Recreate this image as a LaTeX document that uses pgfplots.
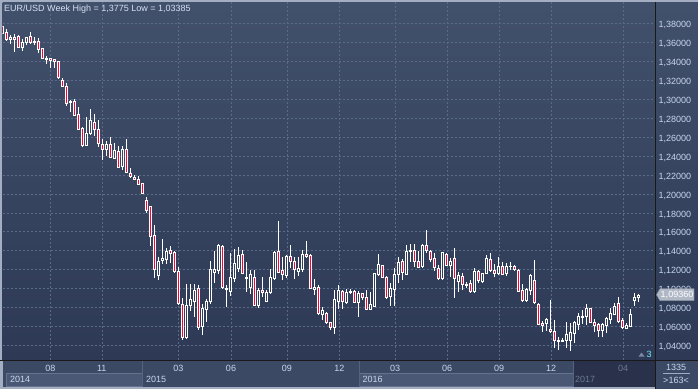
\documentclass[border=0pt]{standalone}
\usepackage{pgfplots}
\pgfplotsset{compat=1.18}
\usepackage{pgfplotstable}
\usepackage{fontspec}
\setmainfont{Liberation Sans}
\definecolor{framecol}{HTML}{A3AEC2}
\definecolor{bgtop}{HTML}{41506B}
\definecolor{bgbot}{HTML}{2D3955}
\definecolor{gridcol}{HTML}{5A6A8A}
\definecolor{bearred}{HTML}{EE0A38}
\definecolor{txt}{HTML}{D5E0F2}
\definecolor{ticktxt}{HTML}{C8D6EE}
\definecolor{monthrow}{HTML}{3C4965}
\definecolor{yearlight}{HTML}{4B5875}
\definecolor{yearborder}{HTML}{65728E}
\definecolor{darkseg}{HTML}{29324A}
\definecolor{greytxt}{HTML}{6B7893}
\definecolor{tagfill}{HTML}{B0B8C6}
\definecolor{sepcol}{HTML}{56637F}
\pgfplotstableread{
k o h l c
1 1.3764 1.3775 1.3690 1.3694
2 1.3705 1.3740 1.3617 1.3631
3 1.3631 1.3677 1.3582 1.3652
4 1.3649 1.3688 1.3502 1.3631
5 1.3667 1.3677 1.3537 1.3547
6 1.3547 1.3635 1.3512 1.3603
7 1.3603 1.3660 1.3575 1.3652
8 1.3660 1.3705 1.3582 1.3596
9 1.3596 1.3652 1.3572 1.3614
10 1.3614 1.3642 1.3484 1.3526
11 1.3537 1.3544 1.3421 1.3431
12 1.3421 1.3456 1.3368 1.3431
13 1.3428 1.3438 1.3333 1.3407
14 1.3417 1.3424 1.3333 1.3403
15 1.3400 1.3403 1.3217 1.3231
16 1.3200 1.3221 1.3133 1.3137
17 1.3140 1.3175 1.2929 1.2958
18 1.2965 1.2993 1.2859 1.2982
19 1.2975 1.3003 1.2824 1.2831
20 1.2835 1.2912 1.2677 1.2684
21 1.2687 1.2705 1.2501 1.2508
22 1.2515 1.2807 1.2508 1.2635
23 1.2635 1.2898 1.2624 1.2772
24 1.2757 1.2842 1.2614 1.2677
25 1.2684 1.2782 1.2491 1.2529
26 1.2519 1.2582 1.2361 1.2466
27 1.2473 1.2554 1.2396 1.2526
28 1.2526 1.2600 1.2375 1.2389
29 1.2378 1.2536 1.2368 1.2456
30 1.2452 1.2508 1.2270 1.2280
31 1.2291 1.2501 1.2249 1.2466
32 1.2473 1.2582 1.2220 1.2228
33 1.2220 1.2273 1.2168 1.2185
34 1.2178 1.2203 1.2143 1.2157
35 1.2157 1.2192 1.2098 1.2105
36 1.2108 1.2115 1.2003 1.2010
37 1.1937 1.1972 1.1797 1.1832
38 1.1867 1.1870 1.1449 1.1554
39 1.1561 1.1674 1.1112 1.1200
40 1.1140 1.1333 1.1088 1.1288
41 1.1298 1.1526 1.1263 1.1316
42 1.1305 1.1431 1.1256 1.1393
43 1.1400 1.1446 1.1270 1.1375
44 1.1386 1.1393 1.1165 1.1186
45 1.1182 1.1228 1.0838 1.0842
46 1.0831 1.0905 1.0456 1.0491
47 1.0484 1.1052 1.0473 1.0824
48 1.0821 1.1052 1.0765 1.0884
49 1.0870 1.1052 1.0702 1.0982
50 1.0999 1.1034 1.0561 1.0596
51 1.0606 1.0842 1.0508 1.0795
52 1.0785 1.0894 1.0649 1.0863
53 1.0863 1.1288 1.0842 1.1200
54 1.1175 1.1393 1.1059 1.1200
55 1.1193 1.1474 1.1158 1.1456
56 1.1446 1.1456 1.0999 1.1017
57 1.0989 1.1034 1.0802 1.1006
58 1.0968 1.1379 1.0919 1.1115
59 1.1105 1.1421 1.1070 1.1272
60 1.1211 1.1439 1.1175 1.1351
61 1.1361 1.1403 1.1158 1.1165
62 1.1115 1.1281 1.0965 1.1108
63 1.1017 1.1193 1.0947 1.1151
64 1.1115 1.1193 1.0814 1.0824
65 1.0824 1.1006 1.0795 1.0982
66 1.0982 1.1122 1.0912 1.0964
67 1.0870 1.0982 1.0859 1.0958
68 1.0958 1.1211 1.0954 1.1115
69 1.1105 1.1393 1.1094 1.1386
70 1.1393 1.1709 1.1165 1.1175
71 1.1193 1.1333 1.1088 1.1147
72 1.1140 1.1351 1.1115 1.1340
73 1.1340 1.1456 1.1221 1.1288
74 1.1288 1.1333 1.1105 1.1200
75 1.1186 1.1333 1.1130 1.1211
76 1.1204 1.1403 1.1175 1.1361
77 1.1361 1.1498 1.1326 1.1344
78 1.1351 1.1368 1.0996 1.1006
79 1.0996 1.1105 1.0930 1.1010
80 1.1017 1.1034 1.0719 1.0737
81 1.0730 1.0802 1.0666 1.0772
82 1.0737 1.0754 1.0631 1.0642
83 1.0642 1.0649 1.0561 1.0589
84 1.0589 1.0982 1.0519 1.0884
85 1.0870 1.1042 1.0785 1.0982
86 1.0971 1.0989 1.0785 1.0867
87 1.0852 1.0999 1.0842 1.0964
88 1.0958 1.0992 1.0947 1.0971
89 1.0971 1.0989 1.0852 1.0859
90 1.0859 1.0975 1.0702 1.0954
91 1.0947 1.0958 1.0877 1.0912
92 1.0912 1.0982 1.0782 1.0785
93 1.0785 1.0965 1.0782 1.0835
94 1.0817 1.1168 1.0802 1.1158
95 1.1147 1.1368 1.1130 1.1253
96 1.1242 1.1253 1.1115 1.1122
97 1.1115 1.1130 1.0894 1.0912
98 1.0916 1.1056 1.0817 1.1003
99 1.0993 1.1214 1.0817 1.1154
100 1.1154 1.1337 1.1056 1.1274
101 1.1284 1.1309 1.1091 1.1168
102 1.1154 1.1460 1.1144 1.1396
103 1.1389 1.1467 1.1284 1.1407
104 1.1407 1.1467 1.1231 1.1284
105 1.1291 1.1396 1.1214 1.1224
106 1.1231 1.1467 1.1221 1.1460
107 1.1460 1.1618 1.1379 1.1400
108 1.1396 1.1407 1.1284 1.1309
109 1.1319 1.1372 1.1186 1.1221
110 1.1214 1.1249 1.1098 1.1105
111 1.1105 1.1385 1.1091 1.1379
112 1.1365 1.1372 1.1238 1.1249
113 1.1249 1.1319 1.1126 1.1291
114 1.1319 1.1424 1.0905 1.1109
115 1.1073 1.1179 1.0968 1.1144
116 1.1133 1.1161 1.0986 1.1045
117 1.1049 1.1073 1.1003 1.1031
118 1.1056 1.1091 1.0951 1.0968
119 1.0968 1.1214 1.0958 1.1179
120 1.1179 1.1196 1.1056 1.1084
121 1.1080 1.1168 1.1063 1.1161
122 1.1161 1.1354 1.1151 1.1319
123 1.1312 1.1379 1.1179 1.1189
124 1.1196 1.1256 1.1126 1.1161
125 1.1161 1.1337 1.1144 1.1238
126 1.1238 1.1284 1.1144 1.1154
127 1.1161 1.1274 1.1133 1.1231
128 1.1231 1.1277 1.1196 1.1238
129 1.1238 1.1249 1.1189 1.1203
130 1.1196 1.1203 1.0968 1.0975
131 1.0979 1.1045 1.0863 1.0880
132 1.0880 1.1003 1.0863 1.0993
133 1.0986 1.1154 1.0933 1.1144
134 1.1091 1.1302 1.0838 1.0852
135 1.0838 1.0845 1.0615 1.0626
136 1.0633 1.0663 1.0545 1.0615
137 1.0633 1.0687 1.0554 1.0677
138 1.0568 1.0880 1.0528 1.0555
139 1.0547 1.0670 1.0371 1.0459
140 1.0459 1.0494 1.0353 1.0448
141 1.0448 1.0476 1.0445 1.0459
142 1.0459 1.0652 1.0371 1.0519
143 1.0459 1.0635 1.03385 1.0536
144 1.0533 1.0663 1.0424 1.0642
145 1.0624 1.0740 1.0568 1.0705
146 1.0698 1.0775 1.0628 1.0712
147 1.0705 1.0838 1.0617 1.0789
148 1.0789 1.0793 1.0633 1.0645
149 1.0642 1.0677 1.0545 1.0617
150 1.0624 1.0635 1.0494 1.0557
151 1.0557 1.0642 1.0494 1.0628
152 1.0610 1.0705 1.0536 1.0687
153 1.0677 1.0793 1.0628 1.0740
154 1.0733 1.0845 1.0722 1.0810
155 1.0845 1.0908 1.0645 1.0652
156 1.0670 1.0687 1.0572 1.0589
157 1.0582 1.0635 1.0572 1.0617
158 1.0607 1.0782 1.0600 1.0733
159 1.0873 1.0951 1.0817 1.0908
160 1.0908 1.0944 1.0863 1.0933
}\candles
\begin{document}
\begin{tikzpicture}[x=1pt,y=1pt,font=\fontsize{9}{10}\selectfont]
\useasboundingbox (0,0) rectangle (698,389);
\fill[framecol] (0,0) rectangle (698,389);
\shade[top color=bgtop, bottom color=bgbot] (655,29) rectangle (698,386.5);
% bottom panel (drawn first so the month labels sit on top)
\fill[monthrow] (2.5,2) rectangle (655,28.5);
\filldraw[fill=yearlight, draw=yearborder, line width=0.8pt] (6.4,2.4) rectangle (142.3,15.2);
\filldraw[fill=yearlight, draw=yearborder, line width=0.8pt] (359.3,2.4) rectangle (573,15.2);
\fill[darkseg] (573,2) rectangle (655,28.5);
\draw[sepcol, line width=0.8pt] (142.3,2) -- (142.3,28.5);
\draw[sepcol, line width=0.8pt] (359.3,2) -- (359.3,28.5);
\draw[sepcol, line width=0.8pt] (573,2) -- (573,28.5);
\fill[monthrow] (655.5,0) rectangle (698,28.5);
\begin{axis}[
  at={(2.5pt,29pt)}, anchor=south west, scale only axis,
  width=652.5pt, height=357.5pt,
  xmin=1.125, xmax=164.25, ymin=1.02468, ymax=1.40195,
  axis background/.style={top color=bgtop, bottom color=bgbot},
  axis line style={draw=none},
  tick style={draw=none},
  major tick length=0pt,
  xtick={13.08,25.95,45.1,58.25,72.2,85.35,99.3,112.3,125.3,138.3,156.3},
  xticklabels={08,11,03,06,09,12,03,06,09,12,\textcolor{greytxt}{04}},
  ytick={1.04,1.06,1.08,1.10,1.12,1.14,1.16,1.18,1.20,1.22,1.24,1.26,1.28,1.30,1.32,1.34,1.36,1.38},
  yticklabels={{1,04000},{1,06000},{1,08000},{1,10000},{1,12000},{1,14000},{1,16000},{1,18000},{1,20000},{1,22000},{1,24000},{1,26000},{1,28000},{1,30000},{1,32000},{1,34000},{1,36000},{1,38000}},
  yticklabel pos=right,
  xmajorgrids, ymajorgrids,
  major grid style={gridcol, line width=0.6pt, dash pattern=on 2pt off 2pt},
  xticklabel style={font=\fontsize{9}{10}\selectfont, text=ticktxt, anchor=base, inner sep=0pt, yshift=-11.9pt},
  yticklabel style={font=\fontsize{9}{10}\selectfont, text=ticktxt, anchor=base west, inner sep=0pt, xshift=3.5pt, yshift=-4.2pt},
]
\addplot[draw=none, mark=none, forget plot, error bars/.cd, y dir=plus, y explicit, error mark=none,
  error bar style={draw=white, solid, line width=0.75pt}]
  table[x=k, y expr={max(\thisrow{o},\thisrow{c})}, y error plus expr={\thisrow{h}-max(\thisrow{o},\thisrow{c})}] {\candles};
\addplot[draw=none, mark=none, forget plot, error bars/.cd, y dir=minus, y explicit, error mark=none,
  error bar style={draw=white, solid, line width=0.75pt}]
  table[x=k, y expr={min(\thisrow{o},\thisrow{c})}, y error minus expr={min(\thisrow{o},\thisrow{c})-\thisrow{l}}] {\candles};
\end{axis}
\begin{axis}[
  at={(2.5pt,29pt)}, anchor=south west, scale only axis,
  width=652.5pt, height=357.5pt,
  xmin=1.125, xmax=164.25, ymin=1.02468, ymax=1.40195,
  hide axis, ybar stacked, bar width=0.6,
]
\addplot[draw=none, fill=none] table[x=k, y expr={min(\thisrow{o},\thisrow{c})}] {\candles};
\addplot[draw=white, fill=none, line width=0.55pt] table[x=k, y expr={max(\thisrow{c}-\thisrow{o},0)}] {\candles};
\addplot[draw=white, fill=bearred, line width=0.55pt] table[x=k, y expr={max(\thisrow{o}-\thisrow{c},0)}] {\candles};
\end{axis}
% title
\node[anchor=base west, inner sep=0pt, text=txt] at (4,377.3) {EUR/USD Week High = 1,3775 Low = 1,03385};
% year labels
\node[anchor=base west, inner sep=0pt, text=ticktxt] at (10,6.3) {2014};
\node[anchor=base west, inner sep=0pt, text=ticktxt] at (146,6.3) {2015};
\node[anchor=base west, inner sep=0pt, text=ticktxt] at (362.5,6.3) {2016};
\node[anchor=base west, inner sep=0pt, text=greytxt] at (575,6.3) {2017};
% right bottom box
\node[anchor=base, inner sep=0pt, text=ticktxt] at (676,18.3) {1335};
\draw[ticktxt!70!monthrow, line width=0.6pt] (663,15.4) -- (690,15.4);
\node[anchor=base, inner sep=0pt, text=ticktxt] at (676,5.2) {>163<};
% separators
\draw[black!90, line width=1.1pt] (0,28.7) -- (698,28.7);
\draw[black!90, line width=1.1pt] (655.5,0) -- (655.5,386.5);
% price tag
\filldraw[fill=tagfill, draw=tagfill!80!black] (656.5,94.3) -- (660,100.3) -- (694,100.3) -- (694,88.3) -- (660,88.3) -- cycle;
\node[anchor=base, inner sep=0pt, text=white] at (677,91.1) {1,09360};
% marker
\fill[gridcol!80!white] (638.5,32.5) -- (644.5,32.5) -- (641.5,36.5) -- cycle;
\node[anchor=base west, inner sep=0pt, text=ticktxt!60!cyan] at (646.5,31.2) {3};
\end{tikzpicture}
\end{document}
